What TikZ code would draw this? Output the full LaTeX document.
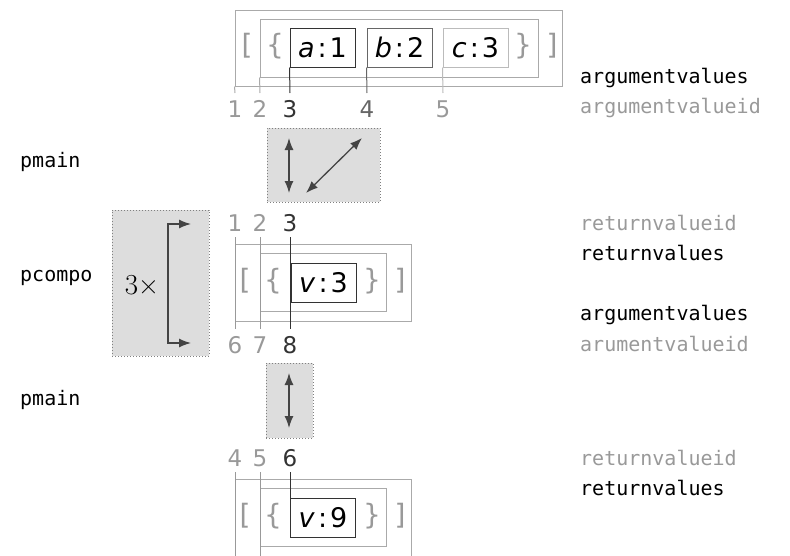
\documentclass[tikz,border=0pt]{standalone}
\usepackage{fontspec}
\setmainfont{DejaVu Sans}
\setmonofont{DejaVu Sans Mono}
\newfontfamily\lmfont{Latin Modern Roman}
\usetikzlibrary{arrows.meta}
\definecolor{cLab}{HTML}{999999}
\definecolor{cBox}{HTML}{AAAAAA}
\definecolor{cLight}{HTML}{BBBBBB}
\definecolor{cDark}{HTML}{333333}
\definecolor{cMid}{HTML}{666666}
\definecolor{cFill}{HTML}{DDDDDD}
\definecolor{cArr}{HTML}{444444}
\newcommand\fval{\fontsize{27}{30}\selectfont}
\newcommand\fbr{\fontsize{28}{32}\selectfont}
\newcommand\fnum{\fontsize{23}{26}\selectfont}
\newcommand\fmono{\fontsize{20}{24}\selectfont\ttfamily}
\tikzset{
  outerbox/.style={draw=cBox, line width=1pt, inner sep=0pt, minimum width=#1},
  innerbox/.style={draw=cBox, line width=1pt, inner sep=0pt, minimum width=#1, minimum height=58pt},
  valbox/.style={draw=#1, line width=1pt, inner sep=0pt, minimum width=65pt, minimum height=39pt, font=\fval},
  brk/.style={text=cLab, font=\fbr, inner sep=0pt},
  num/.style={text=#1, font=\fnum, inner sep=0pt},
  idline/.style={draw=#1, line width=1pt},
  mono/.style={font=\fmono, anchor=west, inner sep=0pt, text=#1},
  opbox/.style={draw=gray, dotted, fill=cFill, line width=1pt, inner sep=0pt},
  dblarrow/.style={draw=cArr, line width=1.3pt, {Latex[length=12pt,width=9pt]}-{Latex[length=12pt,width=9pt]}}
}
\newcommand\kv[2]{\textit{#1}\kern3pt:\kern3pt#2}
\begin{document}
\begin{tikzpicture}[x=1pt,y=-1pt]
\useasboundingbox (0,0) rectangle (790,555);
\clip (0,0) rectangle (790,555);

% ---------- top: argument values ----------
\node[outerbox=327pt, minimum height=76pt] (o1) at (398.5,48) {};
\node[innerbox=278pt] (i1) at (399,48) {};
\node[valbox=cDark] (a) at (322.5,47.5) {\kv{a}{1}};
\node[valbox=cMid] (b) at (399.5,47.5) {\kv{b}{2}};
\node[valbox=cLight] (c) at (475.5,47.5) {\kv{c}{3}};
\node[brk] (lb1) at (247,46) {[};
\node[brk] (lc1) at (275,46) {\{};
\node[brk] (rc1) at (523,46) {\}};
\node[brk] (rb1) at (552,46) {]};

\coordinate (e1) at (235,93);
\coordinate (e2) at (260,93);
\coordinate (e3) at (290,93);
\coordinate (e4) at (367,93);
\coordinate (e5) at (443,93);
\draw[idline=cBox] (o1.south west) -- (e1);
\draw[idline=cBox] (i1.south west) -- (e2);
\draw[idline=cDark] (a.south west) -- (e3);
\draw[idline=cMid] (b.south west) -- (e4);
\draw[idline=cLight] (c.south west) -- (e5);
\node[num=cLab] (n1) at (235,109) {1};
\node[num=cLab] (n2) at (260,109) {2};
\node[num=cDark] (n3) at (290,109) {3};
\node[num=cMid] (n4) at (367,109) {4};
\node[num=cLab] (n5) at (443,109) {5};

\node[mono=black] (av1) at (580,78) {argumentvalues};
\node[mono=cLab] (avi1) at (580,108) {argumentvalueid};

% ---------- pmain op 1 ----------
\node[mono=black] (pm1) at (20,162) {pmain};
\node[opbox, minimum width=113pt, minimum height=74pt] (op1) at (323.5,165) {};
\coordinate (v1t) at (289,138);
\coordinate (v1b) at (289,193);
\coordinate (d1a) at (306,193);
\coordinate (d1b) at (362,138);
\draw[dblarrow] (v1t) -- (v1b);
\draw[dblarrow] (d1a) -- (d1b);

% ---------- middle: pcompo ----------
\node[mono=cLab] (rvi2) at (580,223) {returnvalueid};
\node[mono=black] (rv2) at (580,253) {returnvalues};
\node[mono=black] (av2) at (580,315) {argumentvalues};
\node[mono=cLab] (avi2) at (580,344) {arumentvalueid};
\node[mono=black] (pc) at (20,278) {pcompo};

\node[opbox, minimum width=97pt, minimum height=146pt] (loop) at (160.5,283) {};
\node[font=\lmfont\fontsize{29}{32}\selectfont, inner sep=0pt] (times) at (142,285) {3×};
\coordinate (lt) at (191,224);
\coordinate (ltc) at (168,224);
\coordinate (lbc) at (168,343);
\coordinate (lbt) at (191,343);
\draw[dblarrow] (lt) -- (ltc) -- (lbc) -- (lbt);

\node[num=cLab] (m1) at (235,223) {1};
\node[num=cLab] (m2) at (260,223) {2};
\node[num=cDark] (m3) at (290,223) {3};
\node[outerbox=176pt, minimum height=77pt] (o2) at (323,282.5) {};
\node[innerbox=126pt] (i2) at (323,282) {};
\node[valbox=cDark] (v3) at (323.5,282.5) {\kv{v}{3}};
\node[brk] (lb2) at (245,281) {[};
\node[brk] (lc2) at (273,281) {\{};
\node[brk] (rc2) at (372,281) {\}};
\node[brk] (rb2) at (400,281) {]};
\coordinate (t1) at (235,237);
\coordinate (t2) at (260,237);
\coordinate (t3) at (290,237);
\coordinate (b1) at (235,329);
\coordinate (b2) at (260,329);
\coordinate (b3) at (290,329);
\draw[idline=cLab] (t1) -- (b1);
\draw[idline=cLab] (t2) -- (b2);
\draw[idline=cDark] (t3) -- (b3);
\node[num=cLab] (m6) at (235,345) {6};
\node[num=cLab] (m7) at (260,345) {7};
\node[num=cDark] (m8) at (290,345) {8};

% ---------- pmain op 2 ----------
\node[mono=black] (pm2) at (20,400) {pmain};
\node[opbox, minimum width=47pt, minimum height=75pt] (op2) at (289.5,400.5) {};
\coordinate (v2t) at (289,373);
\coordinate (v2b) at (289,428);
\draw[dblarrow] (v2t) -- (v2b);

% ---------- bottom: return values ----------
\node[mono=cLab] (rvi3) at (580,458) {returnvalueid};
\node[mono=black] (rv3) at (580,488) {returnvalues};
\node[num=cLab] (k4) at (235,458) {4};
\node[num=cLab] (k5) at (260,458) {5};
\node[num=cDark] (k6) at (290,458) {6};
\node[outerbox=176pt, minimum height=77pt] (o3) at (323,517.5) {};
\node[innerbox=126pt] (i3) at (323,517) {};
\node[valbox=cDark] (v9) at (323,517.5) {\kv{v}{9}};
\node[brk] (lb3) at (245,516) {[};
\node[brk] (lc3) at (273,516) {\{};
\node[brk] (rc3) at (372,516) {\}};
\node[brk] (rb3) at (400,516) {]};
\coordinate (s1) at (235,472);
\coordinate (s2) at (260,472);
\coordinate (s3) at (290,472);
\coordinate (f1) at (235,560);
\coordinate (f2) at (260,560);
\draw[idline=cLab] (s1) -- (f1);
\draw[idline=cLab] (s2) -- (f2);
\draw[idline=cDark] (s3) -- (v9.north west);
\end{tikzpicture}
\end{document}
